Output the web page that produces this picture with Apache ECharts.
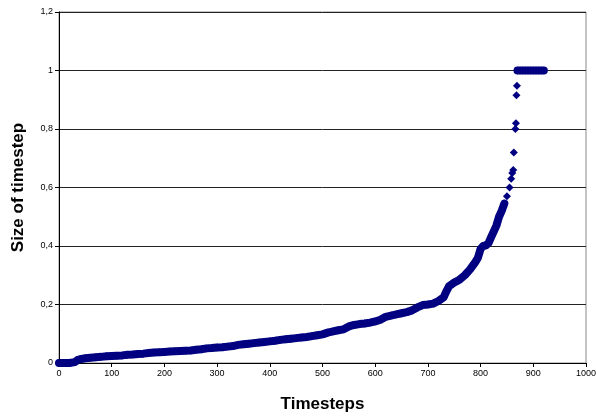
<!DOCTYPE html>
<html>
<head>
<meta charset="utf-8">
<script src="https://cdn.jsdelivr.net/npm/echarts@6/dist/echarts.min.js"></script>
<style>
  html, body { margin: 0; padding: 0; background: #fff; }
  #chart { width: 596px; height: 417px; }
</style>
</head>
<body>
<div id="chart"></div>
<script>
// timestep index and the step size
const timesteps = [
  0, 10, 20, 30, 35, 40, 50, 60, 70, 80, 90,
  100, 110, 120, 130, 140, 150, 160, 170, 180, 190,
  200, 210, 220, 230, 240, 250, 260, 270, 280, 290,
  300, 310, 320, 330, 340, 350, 360, 370, 380, 390,
  400, 410, 420, 430, 440, 450, 460, 470, 480, 490,
  500, 510, 520, 530, 540, 550, 560, 570, 580, 590,
  600, 610, 620, 630, 640, 650, 660, 670, 680, 690,
  700, 710, 720, 730, 735, 740, 750, 760, 770, 780, 790, 795,
  800, 805, 810, 815, 820, 825, 830, 835, 840, 845, 850, 855, 858,
  860, 862, 863, 866, 867, 868, 869,
  870, 875, 880, 885, 890, 895, 900, 905, 910, 915, 920
]
const stepSizes = [
  0, 0, 0, 0.003, 0.01, 0.013, 0.016, 0.018, 0.02, 0.021, 0.023,
  0.024, 0.025, 0.026, 0.028, 0.029, 0.031, 0.032, 0.034, 0.036, 0.037,
  0.038, 0.039, 0.04, 0.041, 0.042, 0.043, 0.045, 0.047, 0.05, 0.051,
  0.053, 0.054, 0.056, 0.058, 0.062, 0.064, 0.066, 0.068, 0.07, 0.072,
  0.074, 0.076, 0.079, 0.081, 0.083, 0.085, 0.087, 0.089, 0.092, 0.095,
  0.098, 0.104, 0.108, 0.112, 0.115, 0.125, 0.13, 0.133, 0.135, 0.138,
  0.142, 0.148, 0.158, 0.162, 0.166, 0.17, 0.174, 0.18, 0.19, 0.198,
  0.2, 0.203, 0.212, 0.225, 0.245, 0.262, 0.275, 0.285, 0.3, 0.32, 0.345, 0.36,
  0.39, 0.4, 0.402, 0.41, 0.43, 0.45, 0.47, 0.5, 0.52, 0.545, 0.57, 0.6, 0.63,
  0.65, 0.66, 0.72, 0.8, 0.82, 0.915, 0.948,
  1, 1, 1, 1, 1, 1, 1, 1, 1, 1, 1
]
const xTitle = 'Timesteps'
const yTitle = 'Size of timestep'

const font = '"Liberation Sans", Arial, sans-serif'
const navy = '#000080'
const comma = v => String(Math.round(v * 10) / 10).replace('.', ',')

const points = timesteps.map((t, i) => [t, stepSizes[i]])
// the markers sit one per timestep in the original, so the low part reads as a solid band
const bandPoints = points.filter(p => p[0] <= 845)
const flatPoints = points.filter(p => p[0] >= 870)

const myChart = echarts.init(document.getElementById('chart'))
myChart.setOption({
  animation: false,
  backgroundColor: '#fff',
  grid: {
    left: 59, right: 10, top: 12, bottom: 54,
    outerBoundsMode: 'none',
    show: true, borderColor: '#888', borderWidth: 1
  },
  xAxis: {
    type: 'value',
    min: 0, max: 1000, interval: 100,
    name: xTitle,
    nameLocation: 'middle',
    nameGap: 33,
    nameTextStyle: { fontFamily: font, fontSize: 17, fontWeight: 'bold', color: '#000' },
    axisLine: { lineStyle: { color: '#000', width: 1 } },
    axisTick: { show: true, length: 4, lineStyle: { color: '#000' } },
    axisLabel: { fontFamily: font, fontSize: 9, color: '#000', margin: 6, formatter: v => String(v) },
    splitLine: { show: false }
  },
  yAxis: {
    type: 'value',
    min: 0, max: 1.2, interval: 0.2,
    name: yTitle,
    nameLocation: 'middle',
    nameGap: 32,
    nameTextStyle: { fontFamily: font, fontSize: 17, fontWeight: 'bold', color: '#000' },
    axisLine: { show: true, lineStyle: { color: '#000', width: 1 } },
    axisTick: { show: true, length: 4, lineStyle: { color: '#000' } },
    axisLabel: { fontFamily: font, fontSize: 9, color: '#000', margin: 6, formatter: comma },
    splitLine: { show: true, showMinLine: false, showMaxLine: true, lineStyle: { color: '#222', width: 1 } }
  },
  series: [
    {
      type: 'line',
      data: bandPoints,
      showSymbol: false,
      lineStyle: { color: navy, width: 8, cap: 'round', join: 'round' },
      z: 2
    },
    {
      type: 'line',
      data: flatPoints,
      showSymbol: false,
      lineStyle: { color: navy, width: 8, cap: 'round', join: 'round' },
      z: 2
    },
    {
      type: 'scatter',
      data: points,
      symbol: 'diamond',
      symbolSize: 8,
      itemStyle: { color: navy, opacity: 1 },
      z: 3
    }
  ]
})
</script>
</body>
</html>
